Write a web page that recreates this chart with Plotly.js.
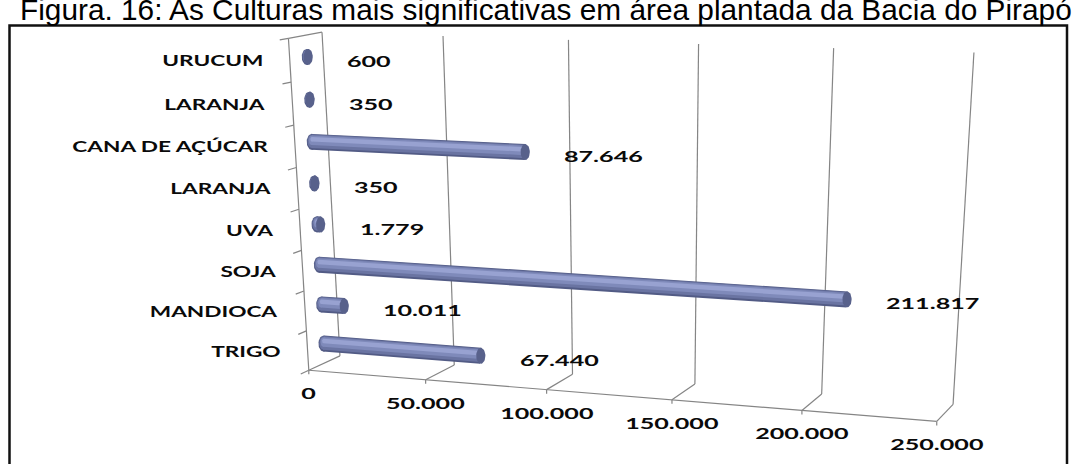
<!DOCTYPE html>
<html>
<head>
<meta charset="utf-8">
<script src="https://cdn.plot.ly/plotly-3.0.1.min.js"></script>
<style>
  html, body { margin: 0; padding: 0; background: #fff; }
  #chart { width: 1076px; height: 464px; }
</style>
</head>
<body>
<div id="chart"></div>
<script>
// Planted area (ha) of the main crops in the Pirapó basin, listed bottom to top
const categories = ['TRIGO', 'MANDIOCA', 'SOJA', 'UVA', 'LARANJA', 'CANA DE AÇÚCAR', 'LARANJA', 'URUCUM'];
const areas = [67440, 10011, 211817, 1779, 350, 87646, 350, 600];
const tickValues = [0, 50000, 100000, 150000, 200000, 250000];
const tickLabels = ['0', '50.000', '100.000', '150.000', '200.000', '250.000'];
const axisMax = 250000;
const titleText = 'Figura. 16: As Culturas mais significativas em área plantada da Bacia do Pirapó';

// Thousands separator used in the data labels (pt-BR style)
function fmt(v) { return String(v).replace(/\B(?=(\d{3})+(?!\d))/g, '.'); }

// ---- 3-D view of the chart box -------------------------------------------
// World coordinates: X = value / axisMax, Y = height along the category axis
// (0 bottom .. 1 top), Z = depth (0 front .. 1 back). Each entry pins a box
// point to the page; a pinhole camera is fitted to them below.
const viewAnchors = [
  [0, 0, 0, 309, 370], [0.2, 0, 0, 426, 381], [0.4, 0, 0, 547, 390],
  [0.6, 0, 0, 672, 400], [0.8, 0, 0, 801, 410], [1, 0, 0, 937, 421],
  [0, 0, 1, 340, 357], [0.2, 0, 1, 453, 363], [0.4, 0, 1, 573, 373],
  [0.6, 0, 1, 695, 384], [0.8, 0, 1, 822, 395], [1, 0, 1, 953, 405],
  [0, 1, 1, 322, 32], [0.2, 1, 1, 443, 37], [0.4, 1, 1, 569, 40],
  [0.6, 1, 1, 699, 44], [0.8, 1, 1, 833, 48], [1, 1, 1, 974, 52],
  [0, 1, 0, 288, 38], [0, 0.5, 0, 299, 209]
];

function fitCamera(anchors) {
  const n = 11;
  const M = Array.from({ length: n }, () => new Array(n).fill(0));
  const r = new Array(n).fill(0);
  function addRow(row, rhs) {
    for (let i = 0; i < n; i++) {
      r[i] += row[i] * rhs;
      for (let j = 0; j < n; j++) M[i][j] += row[i] * row[j];
    }
  }
  anchors.forEach(([X, Y, Z, u, v]) => {
    addRow([X, Y, Z, 1, 0, 0, 0, 0, -u * X, -u * Y, -u * Z], u);
    addRow([0, 0, 0, 0, X, Y, Z, 1, -v * X, -v * Y, -v * Z], v);
  });
  for (let c = 0; c < n; c++) {
    let p = c;
    for (let i = c + 1; i < n; i++) if (Math.abs(M[i][c]) > Math.abs(M[p][c])) p = i;
    [M[c], M[p]] = [M[p], M[c]];
    [r[c], r[p]] = [r[p], r[c]];
    for (let i = c + 1; i < n; i++) {
      const f = M[i][c] / M[c][c];
      for (let j = c; j < n; j++) M[i][j] -= f * M[c][j];
      r[i] -= f * r[c];
    }
  }
  const p = new Array(n).fill(0);
  for (let i = n - 1; i >= 0; i--) {
    let s = r[i];
    for (let j = i + 1; j < n; j++) s -= M[i][j] * p[j];
    p[i] = s / M[i][i];
  }
  return p;
}
const P = fitCamera(viewAnchors);
function project(X, Y, Z) {
  const w = P[8] * X + P[9] * Y + P[10] * Z + 1;
  return [(P[0] * X + P[1] * Y + P[2] * Z + P[3]) / w,
          (P[4] * X + P[5] * Y + P[6] * Z + P[7]) / w];
}

// ---- styles ----------------------------------------------------------------
const gridColor = '#858585';
const barDepth = 0.5;
const cylinderBands = [
  { offset: 0,    width: 16,  color: '#525b85' },
  { offset: -0.6, width: 13.5, color: '#6a74a2' },
  { offset: -1.6, width: 9.5, color: '#7f8aba' },
  { offset: -2.6, width: 4.5, color: '#98a2d1' }
];
const capColor = '#58618b';
const labelFont = { family: 'Lato, "Open Sans", sans-serif', size: 15.5, color: '#0a0a0a', weight: 700 };

const traces = [];

// ---- walls, floor grid and ticks -----------------------------------------
const gx = [], gy = [];
function seg(a, b) { gx.push(a[0], b[0], null); gy.push(a[1], b[1], null); }
tickValues.forEach(t => {
  const X = t / axisMax;
  seg(project(X, 0, 1), project(X, 1, 1));       // back wall gridline
  seg(project(X, 0, 0), project(X, 0, 1));       // floor gridline
  const f = project(X, 0, 0);
  seg(f, [f[0], f[1] + 4]);                      // tick mark
});
seg(project(0, 0, 0), project(1, 0, 0));         // front edge of the floor
seg(project(0, 0, 0), project(0, 1, 0));         // category axis
seg(project(0, 1, 0), project(0, 1, 1));         // top of the side wall
for (let k = 0; k <= categories.length; k++) {
  const Y = k / categories.length;
  seg(project(0, Y, 0), project(0, Y, -0.25));   // category tick marks
}
traces.push({ type: 'scatter', mode: 'lines', x: gx, y: gy, connectgaps: false,
  line: { color: gridColor, width: 1.2 }, hoverinfo: 'skip' });

// ---- cylinders -----------------------------------------------------------
function ellipse(cx, cy, rx, ry) {
  const xs = [], ys = [];
  for (let i = 0; i <= 36; i++) {
    const a = (i / 36) * 2 * Math.PI;
    xs.push(cx + rx * Math.cos(a));
    ys.push(cy + ry * Math.sin(a));
  }
  return { x: xs, y: ys };
}
function filled(shape, color) {
  return { type: 'scatter', mode: 'lines', x: shape.x, y: shape.y, fill: 'toself',
    fillcolor: color, line: { width: 0, color: color }, hoverinfo: 'skip' };
}

const annotations = [];
categories.forEach((name, i) => {
  const Yc = (i + 0.5) / categories.length;
  const s = project(0, Yc, barDepth);
  const e = project(areas[i] / axisMax, Yc, barDepth);
  cylinderBands.forEach(b => {
    traces.push(filled(ellipse(s[0], s[1] + b.offset, b.width * 0.31, b.width / 2), b.color));
    traces.push({ type: 'scatter', mode: 'lines', x: [s[0], e[0]], y: [s[1] + b.offset, e[1] + b.offset],
      line: { color: b.color, width: b.width }, hoverinfo: 'skip' });
  });
  traces.push(filled(ellipse(e[0], e[1], 4.6, 8), capColor));

  // category label at the front of the axis
  const f = project(0, Yc, 0);
  annotations.push({ x: f[0], y: f[1], xref: 'x', yref: 'y', text: name, showarrow: false,
    xanchor: 'right', yanchor: 'middle', align: 'right', xshift: -25, font: labelFont });
  // data label after the end of the bar
  annotations.push({ x: e[0], y: e[1], xref: 'x', yref: 'y', text: fmt(areas[i]), showarrow: false,
    xanchor: 'left', yanchor: 'middle', align: 'left', xshift: 37, yshift: -4, font: labelFont });
});

tickValues.forEach((t, k) => {
  const f = project(t / axisMax, 0, 0);
  annotations.push({ x: f[0], y: f[1], xref: 'x', yref: 'y', text: tickLabels[k], showarrow: false,
    xanchor: 'center', yanchor: 'middle', align: 'center', yshift: -23, font: labelFont });
});

const layout = {
  width: 1076, height: 464,
  margin: { l: 0, r: 0, t: 0, b: 0, pad: 0 },
  paper_bgcolor: '#ffffff', plot_bgcolor: '#ffffff',
  showlegend: false, hovermode: false,
  xaxis: { range: [0, 1076], visible: false, fixedrange: true },
  yaxis: { range: [464, 0], visible: false, fixedrange: true },
  title: {
    text: titleText,
    font: { family: '"Liberation Sans", Arial, sans-serif', size: 29.8, color: '#000' },
    x: 20 / 1076, xanchor: 'left', xref: 'container',
    y: 1 - 9.5 / 464, yanchor: 'middle', yref: 'container'
  },
  shapes: [{
    type: 'rect', xref: 'x', yref: 'y', x0: 9.5, x1: 1067, y0: 25.5, y1: 520,
    line: { color: '#111', width: 2.5 }, fillcolor: 'rgba(0,0,0,0)', layer: 'below'
  }],
  annotations: annotations
};

// Chart lettering is set wide, as in a horizontally stretched Calibri;
// figures get a little more width than words
function widenLabels(gd) {
  gd.querySelectorAll('.annotation-text').forEach(t => {
    const anchor = t.getAttribute('text-anchor');
    const ox = anchor === 'end' ? '100%' : anchor === 'start' ? '0%' : '50%';
    const numeric = /^[\d.]+$/.test(t.textContent);
    t.style.transformBox = 'fill-box';
    t.style.transformOrigin = ox + ' 50%';
    t.style.transform = 'scaleX(' + (numeric ? 1.62 : 1.46) + ')';
  });
}

Plotly.newPlot('chart', traces, layout, { staticPlot: true, displayModeBar: false })
  .then(widenLabels);
</script>
</body>
</html>
